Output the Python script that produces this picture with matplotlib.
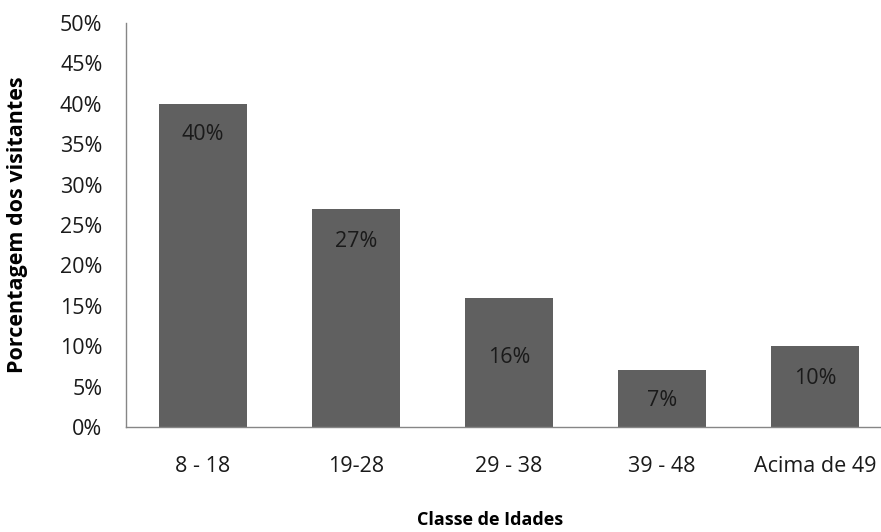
import matplotlib
matplotlib.use("Agg")
import matplotlib.pyplot as plt
from matplotlib.ticker import PercentFormatter

# dados
classes = ["8 - 18", "19-28", "29 - 38", "39 - 48", "Acima de 49"]
percentual = [40, 27, 16, 7, 10]
rotulos = ["40%", "27%", "16%", "7%", "10%"]

plt.rcParams["font.family"] = ["Open Sans", "DejaVu Sans"]

W, H = 881, 532
fig = plt.figure(figsize=(W / 100, H / 100), dpi=100)
# axes in pixel coords: left 126, right 881, top 23, bottom 427
ax = fig.add_axes([126 / W, 1 - 427 / H, (W - 126) / W, (427 - 23) / H])

x = range(len(classes))
ax.bar(x, percentual, width=0.575, color="#606060", zorder=2)

# label offsets below bar top (in % units)
desloc = [3.8, 4.1, 7.4, 3.7, 4.0]
for i, v in enumerate(percentual):
    ax.text(i, v - desloc[i], rotulos[i], ha="center", va="center",
            fontsize=15.5, color="#1a1a1a")

ax.set_xlim(-0.5, 4.43)
ax.set_ylim(0, 50)
ax.set_yticks(range(0, 51, 5))
ax.yaxis.set_major_formatter(PercentFormatter(decimals=0))
ax.set_xticks(list(x))
ax.set_xticklabels(classes)

for s in ["top", "right"]:
    ax.spines[s].set_visible(False)
for s in ["left", "bottom"]:
    ax.spines[s].set_color("#868686")
    ax.spines[s].set_linewidth(1.0)
ax.tick_params(axis="both", length=0, labelsize=15.5, colors="#1a1a1a")
ax.tick_params(axis="y", pad=17)
ax.tick_params(axis="x", pad=21)

ax.set_ylabel("Porcentagem dos visitantes", fontsize=15.5, fontweight="bold")
ax.set_xlabel("Classe de Idades", fontsize=13, fontweight="bold")
ax.yaxis.set_label_coords(-108 / 755, 0.5)
ax.xaxis.set_label_coords((490 - 126) / 755, -(520 - 427) / 404)
ax.xaxis.label.set_va("center")
ax.yaxis.label.set_va("center")

fig.savefig("out.png", dpi=100)
